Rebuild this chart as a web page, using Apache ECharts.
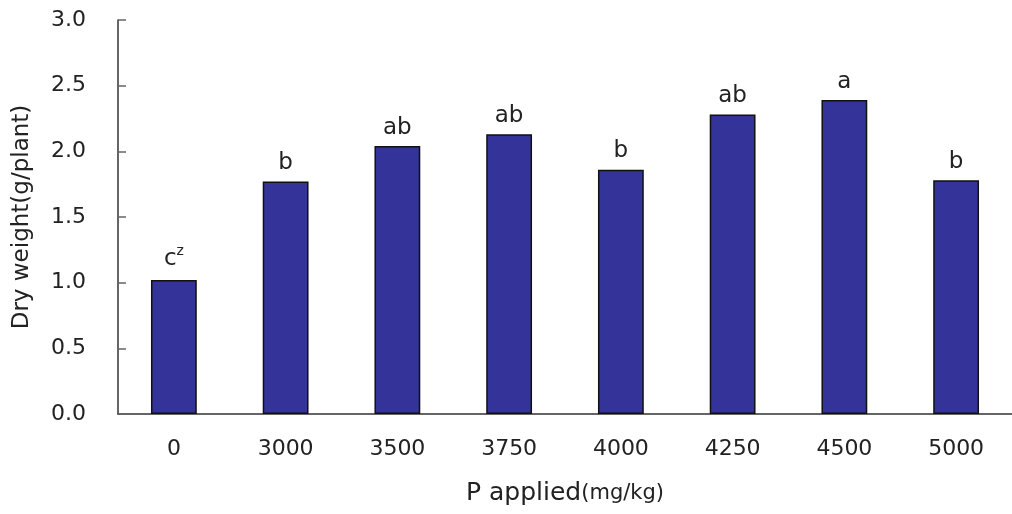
<!DOCTYPE html>
<html>
<head>
<meta charset="utf-8">
<script src="https://cdn.jsdelivr.net/npm/echarts@6/dist/echarts.min.js"></script>
<style>
  html, body { margin: 0; padding: 0; background: #fff; }
  #chart { width: 1012px; height: 514px; }
</style>
</head>
<body>
<div id="chart"></div>
<script>
// P application rates (mg/kg)
const categories = ['0', '3000', '3500', '3750', '4000', '4250', '4500', '5000'];
// Mean dry weight per plant (g)
const dryWeight = [1.02, 1.77, 2.04, 2.13, 1.86, 2.28, 2.39, 1.78];
// Duncan's multiple range test letters
const letters = ['c', 'b', 'ab', 'ab', 'b', 'ab', 'a', 'b'];
const yTicks = ['0.0', '0.5', '1.0', '1.5', '2.0', '2.5', '3.0'];

const FONT = '"DejaVu Sans", Verdana, sans-serif';
const TXT = '#222';
const chart = echarts.init(document.getElementById('chart'), null, { renderer: 'canvas' });

chart.setOption({
  animation: false,
  backgroundColor: '#fff',
  grid: { left: 118, top: 20, width: 902, height: 394, containLabel: false },
  xAxis: {
    type: 'category',
    data: categories,
    name: '{big|P applied}{small|(mg/kg)}',
    nameLocation: 'middle',
    nameGap: 67,
    nameTextStyle: {
      rich: {
        big: { fontSize: 25, fontFamily: FONT, color: TXT },
        small: { fontSize: 21, fontFamily: FONT, color: TXT }
      }
    },
    axisLine: { lineStyle: { color: '#333', width: 1.5 } },
    axisTick: { inside: true, length: 8, lineStyle: { color: '#666', width: 1.5 } },
    axisLabel: { margin: 24, fontSize: 22, fontFamily: FONT, color: TXT }
  },
  yAxis: {
    type: 'value',
    min: 0,
    max: 3,
    interval: 0.5,
    name: 'Dry weight(g/plant)',
    nameLocation: 'middle',
    nameGap: 84,
    nameTextStyle: { fontSize: 23, fontFamily: FONT, color: TXT },
    splitLine: { show: false },
    axisLine: { show: true, lineStyle: { color: '#333', width: 1.5 } },
    axisTick: { show: true, inside: true, length: 8, lineStyle: { color: '#666', width: 1.5 } },
    axisLabel: {
      margin: 32,
      fontSize: 22,
      fontFamily: FONT,
      color: TXT,
      formatter: v => yTicks[Math.round(v / 0.5)]
    }
  },
  series: [{
    type: 'bar',
    data: dryWeight,
    barWidth: '41%',
    itemStyle: { color: '#333399', borderColor: '#111', borderWidth: 1.5 },
    label: {
      show: true,
      position: 'top',
      distance: 7,
      fontSize: 23,
      fontFamily: FONT,
      color: TXT,
      formatter: p => p.dataIndex === 0
        ? '{t|' + letters[p.dataIndex] + '}{sup|z}'
        : letters[p.dataIndex],
      rich: {
        t: { fontSize: 23, fontFamily: FONT, color: TXT },
        sup: { fontSize: 14, fontFamily: FONT, color: TXT, verticalAlign: 'top', padding: [0, 0, 15, 0] }
      }
    }
  }]
});
</script>
</body>
</html>
